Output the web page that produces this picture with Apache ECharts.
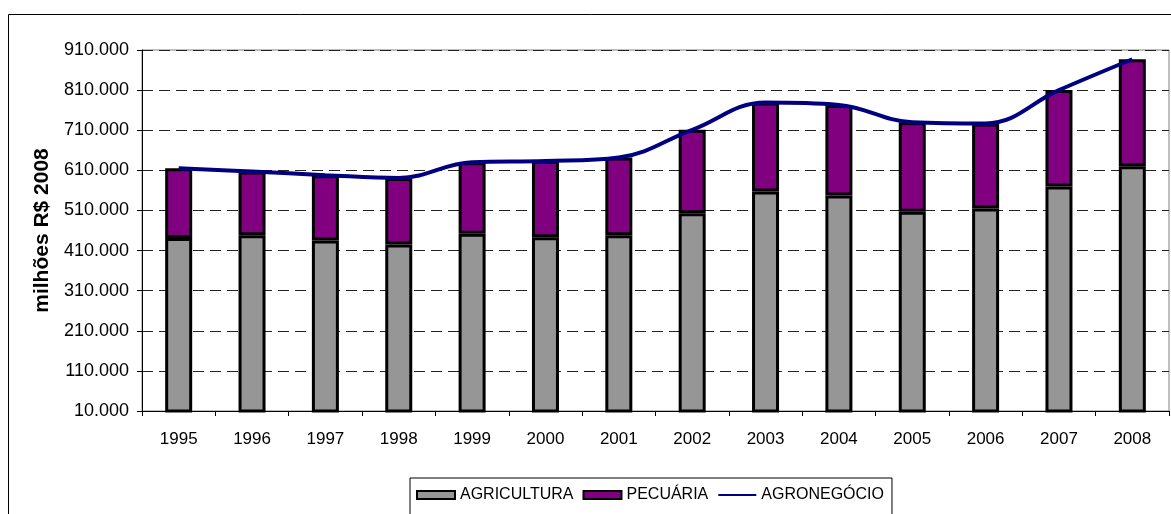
<!DOCTYPE html>
<html>
<head>
<meta charset="utf-8">
<script src="https://cdn.jsdelivr.net/npm/echarts@6/dist/echarts.min.js"></script>
<style>
  html, body { margin: 0; padding: 0; background: #fff; }
  #chart { width: 1171px; height: 514px; }
</style>
</head>
<body>
<div id="chart"></div>
<script>
// data (R$ milhoes de 2008)
var anos = ['1995', '1996', '1997', '1998', '1999', '2000', '2001',
            '2002', '2003', '2004', '2005', '2006', '2007', '2008'];
var agricultura = [441000, 448000, 435000, 425000, 452000, 443000, 448000,
                   503000, 557000, 547000, 507000, 515000, 570000, 620000];
var pecuaria = [174000, 159000, 163000, 166000, 178000, 190000, 194000,
                208000, 222000, 226000, 223000, 212000, 240000, 267000];
var agronegocio = [615000, 607000, 598000, 591000, 630000, 633000, 642000,
                   711000, 779000, 773000, 730000, 727000, 810000, 887000];
var yMin = 10000, yMax = 910000, yStep = 100000;

var fonte = 'Liberation Sans, Arial, sans-serif';

var formataMil = function (v) {
	return String(v).replace(/\B(?=(\d{3})+(?!\d))/g, '.');
};

var chart = echarts.init(document.getElementById('chart'));
chart.setOption({
	animation: false,
	backgroundColor: '#fff',
	textStyle: { fontFamily: fonte, color: '#000' },
	graphic: [{
		type: 'rect',
		shape: { x: 8.5, y: 14.5, width: 1200, height: 600 },
		style: { fill: null, stroke: '#000', lineWidth: 1 },
		silent: true
	}],
	grid: {
		left: 142, top: 50, right: 2, bottom: 103,
		show: true,
		borderColor: '#808080',
		borderWidth: 1,
		containLabel: false,
		outerBoundsMode: 'none'
	},
	legend: {
		left: 410, top: 478,
		padding: [9, 8, 30, 6],
		borderColor: '#000',
		borderWidth: 1,
		itemWidth: 38,
		itemHeight: 8,
		itemGap: 9,
		textStyle: { fontFamily: fonte, fontSize: 16, color: '#000' },
		data: [
			{ name: 'AGRICULTURA', icon: 'rect' },
			{ name: 'PECUÁRIA', icon: 'rect' },
			{ name: 'AGRONEGÓCIO', itemStyle: { opacity: 0 } }
		]
	},
	xAxis: {
		type: 'category',
		data: anos,
		boundaryGap: true,
		axisLine: { lineStyle: { color: '#000', width: 1 } },
		axisTick: { show: true, length: 5, lineStyle: { color: '#000' } },
		axisLabel: { fontFamily: fonte, fontSize: 17, color: '#000', margin: 20 },
		splitLine: { show: false }
	},
	yAxis: {
		type: 'value',
		min: yMin,
		max: yMax,
		interval: yStep,
		name: 'milhões R$ 2008',
		nameLocation: 'middle',
		nameGap: 88,
		nameTextStyle: { fontFamily: fonte, fontSize: 21, fontWeight: 'bold', color: '#000' },
		axisLine: { show: true, lineStyle: { color: '#000', width: 1 } },
		axisTick: { show: true, length: 5, lineStyle: { color: '#000' } },
		axisLabel: {
			fontFamily: fonte, fontSize: 18, color: '#000', margin: 13,
			formatter: formataMil
		},
		splitLine: { show: true, lineStyle: { color: '#222', width: 1, type: [11, 6] } }
	},
	series: [{
		name: 'AGRICULTURA',
		type: 'bar',
		stack: 'total',
		barWidth: 27,
		itemStyle: { color: '#969696', borderColor: '#000', borderWidth: 3 },
		data: agricultura
	}, {
		name: 'PECUÁRIA',
		type: 'bar',
		stack: 'total',
		barWidth: 27,
		itemStyle: { color: '#800080', borderColor: '#000', borderWidth: 3 },
		data: pecuaria
	}, {
		name: 'AGRONEGÓCIO',
		type: 'line',
		smooth: 0.4,
		symbol: 'none',
		z: 5,
		lineStyle: { color: '#000080', width: 4 },
		itemStyle: { color: '#000080' },
		data: agronegocio
	}]
});
</script>
</body>
</html>
